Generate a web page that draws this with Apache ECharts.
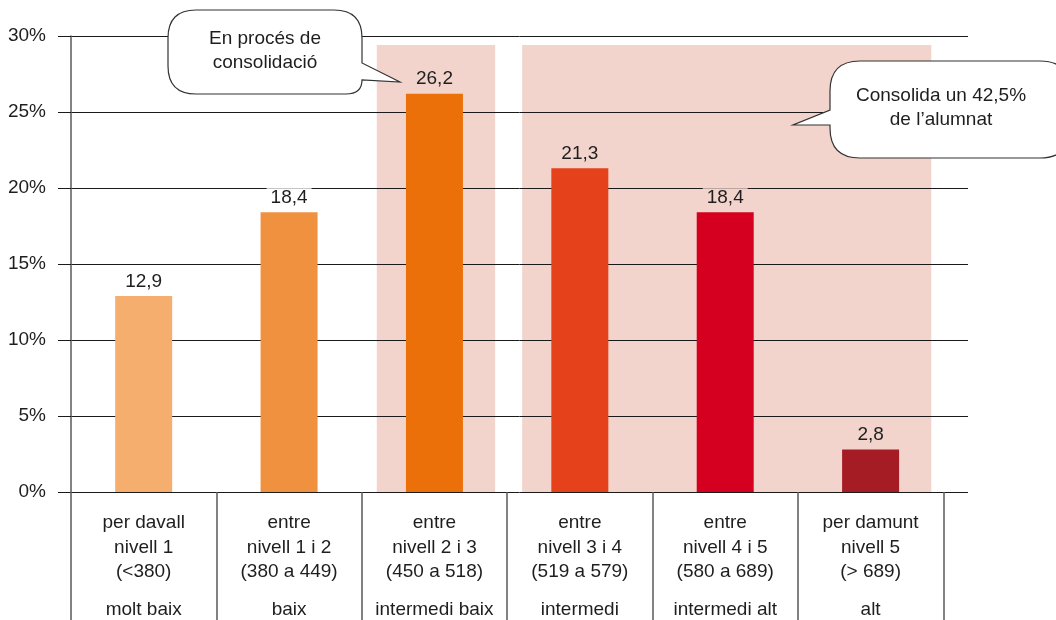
<!DOCTYPE html>
<html><head><meta charset="utf-8">
<script src="https://cdn.jsdelivr.net/npm/echarts@6/dist/echarts.min.js"></script>
<style>html,body{margin:0;padding:0;background:#fff}#c{width:1056px;height:620px}</style>
</head><body><div id="c"></div>
<script>
// ---- data ----
const categoryLines = ['per davall\nnivell 1', 'entre\nnivell 1 i 2', 'entre\nnivell 2 i 3', 'entre\nnivell 3 i 4', 'entre\nnivell 4 i 5', 'per damunt\nnivell 5'];
const categoryRanges = ['(<380)', '(380 a 449)', '(450 a 518)', '(519 a 579)', '(580 a 689)', '(> 689)'];
const levelNames = ['molt baix', 'baix', 'intermedi baix', 'intermedi', 'intermedi alt', 'alt'];
const values = [12.9, 18.4, 26.2, 21.3, 18.4, 2.8];
const barColors = ['#F6AE6E', '#F09140', '#EC700A', '#E5411A', '#D5001F', '#A51C24'];
const shadedGroups = [[2, 2], [3, 5]];   // category index ranges
const yTicks = [0, 5, 10, 15, 20, 25, 30];
const calloutTexts = ['En procés de\nconsolidació', 'Consolida un 42,5%\nde l\u2019alumnat'];

// ---- styles ----
const FONT = "'Liberation Sans', Arial, sans-serif";
const FS = 19;
const SHADE = '#F2D4CC';
const inShade = i => shadedGroups.some(g => i >= g[0] && i <= g[1]);

// callout bubble shape: rounded box with a pointed tail
const Callout = echarts.graphic.extendShape({
  shape: {cmds: []},
  buildPath: function (ctx, shape) {
    shape.cmds.forEach(c => {
      if (c[0] === 'M') ctx.moveTo(c[1], c[2]);
      else if (c[0] === 'L') ctx.lineTo(c[1], c[2]);
      else if (c[0] === 'Q') ctx.quadraticCurveTo(c[1], c[2], c[3], c[4]);
    });
    ctx.closePath();
  }
});
echarts.graphic.registerShape('callout', Callout);

const chart = echarts.init(document.getElementById('c'), null, {renderer: 'canvas'});
const n = categoryLines.length;
const tickVals = Array.from({length: n + 1}, (_, i) => i);
const labelVals = Array.from({length: n}, (_, i) => i + 0.5);

const bubble1 = [['M',196,10],['L',334,10],['Q',362,10,362,38],['L',362,63],['L',400,82],['L',362,80],['Q',362,94,346,94],['L',196,94],['Q',168,94,168,66],['L',168,38],['Q',168,10,196,10]];
const bubble2 = [['M',860,61],['L',1040,61],['Q',1070,61,1070,91],['L',1070,128],['Q',1070,158,1040,158],['L',860,158],['Q',830,158,830,128],['L',830,125],['L',793,125],['L',830,110],['L',830,91],['Q',830,61,860,61]];

const option = {
  backgroundColor: '#fff',
  animation: false,
  textStyle: {fontFamily: FONT},
  grid: {left: 71, right: 88, top: 36, bottom: 128, containLabel: false},
  xAxis: {
    type: 'value', min: 0, max: 6.17,
    axisLine: {show: false},
    splitLine: {show: false},
    axisTick: {show: true, customValues: tickVals, length: 128, lineStyle: {color: '#5a5a5a', width: 1.5}},
    axisLabel: {
      show: true, customValues: labelVals, margin: 19,
      formatter: v => {
        const i = Math.floor(v);
        const l = categoryLines[i].split('\n').map(s => '{a|' + s + '}').join('\n');
        return l + '\n{a|' + categoryRanges[i] + '}\n{b|' + levelNames[i] + '}';
      },
      rich: {
        a: {fontFamily: FONT, fontSize: FS, color: '#1e1e1e', lineHeight: 24.5, align: 'center'},
        b: {fontFamily: FONT, fontSize: FS, color: '#1e1e1e', lineHeight: 50, align: 'center'}
      }
    }
  },
  yAxis: {
    type: 'value', min: yTicks[0], max: yTicks[yTicks.length - 1], interval: 5,
    axisLine: {show: true, lineStyle: {color: '#5a5a5a', width: 1.5}},
    axisTick: {show: true, length: 13, lineStyle: {color: '#1a1a1a', width: 1}},
    axisLabel: {formatter: '{value}%', fontFamily: FONT, fontSize: FS, color: '#1e1e1e', margin: 25},
    splitLine: {show: true, lineStyle: {color: '#1a1a1a', width: 1}}
  },
  series: [
    {
      type: 'custom', z: -1, silent: true, clip: false,
      encode: {x: [0, 1]},
      data: shadedGroups,
      renderItem: (params, api) => {
        const s = api.value(0), e = api.value(1);
        const p0 = api.coord([s, yTicks[yTicks.length - 1]]);
        const p1 = api.coord([e + 1, 0]);
        return {type: 'rect', shape: {x: p0[0] + 15, y: p0[1] + 9, width: p1[0] - p0[0] - 27, height: p1[1] - p0[1] - 9}, style: {fill: SHADE}};
      }
    },
    {
      type: 'bar', barWidth: 57, z: 3,
      data: values.map((v, i) => ({
        value: [i + 0.5, v],
        itemStyle: {color: barColors[i]},
        label: {backgroundColor: inShade(i) ? SHADE : '#fff'}
      })),
      label: {
        show: true, position: 'top', distance: 5, padding: [0, 4],
        fontFamily: FONT, fontSize: FS, color: '#1e1e1e',
        formatter: p => String(p.value[1]).replace('.', ',')
      }
    }
  ],
  graphic: [
    {type: 'callout', z: 100, shape: {cmds: bubble1}, style: {fill: '#fff', stroke: '#333', lineWidth: 1.2}},
    {type: 'text', z: 101, x: 265, y: 51, style: {text: calloutTexts[0], font: FS + 'px ' + FONT, fill: '#1e1e1e', textAlign: 'center', textVerticalAlign: 'middle', lineHeight: 24}},
    {type: 'callout', z: 100, shape: {cmds: bubble2}, style: {fill: '#fff', stroke: '#333', lineWidth: 1.2}},
    {type: 'text', z: 101, x: 941, y: 108, style: {text: calloutTexts[1], font: FS + 'px ' + FONT, fill: '#1e1e1e', textAlign: 'center', textVerticalAlign: 'middle', lineHeight: 24}}
  ]
};
chart.setOption(option);
</script>
</body></html>
